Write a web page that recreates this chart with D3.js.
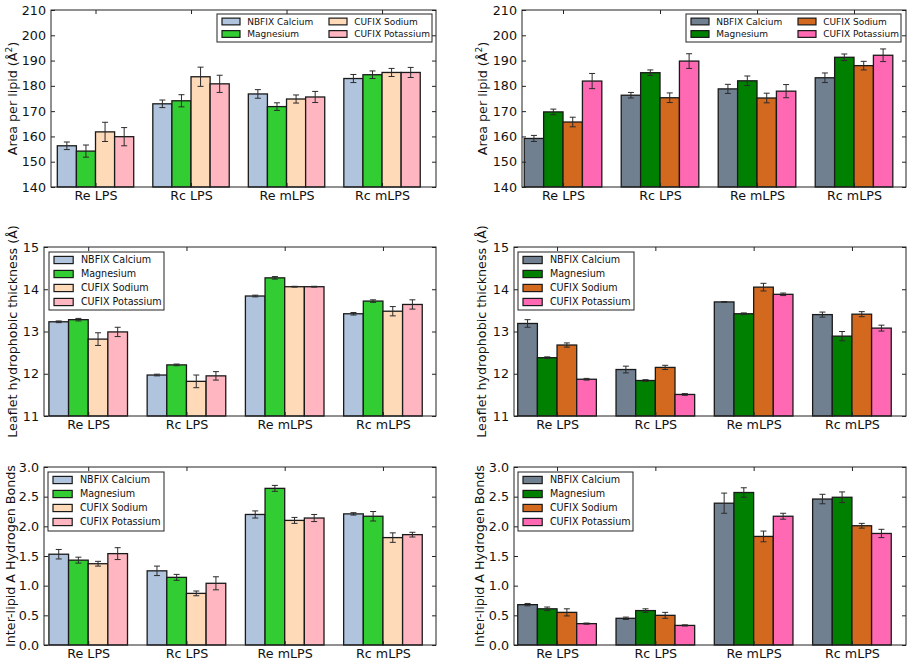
<!DOCTYPE html>
<html><head><meta charset="utf-8">
<script src="https://cdn.jsdelivr.net/npm/d3@7"></script>
<style>body{margin:0;background:#fff}svg{display:block}</style>
</head><body>
<svg id="chart" width="909" height="661"></svg>
<script>
// ---------- data ----------
const categories = ["Re LPS", "Rc LPS", "Re mLPS", "Rc mLPS"];
const seriesNames = ["NBFIX Calcium", "Magnesium", "CUFIX Sodium", "CUFIX Potassium"];
const leftColors = ["#b0c4de", "#32cd32", "#ffdab9", "#ffb6c1"];
const rightColors = ["#708090", "#008000", "#d2691e", "#ff69b4"];

const areaTicks = [140, 150, 160, 170, 180, 190, 200, 210];
const thicknessTicks = [11, 12, 13, 14, 15];
const hbondTicks = [0.0, 0.5, 1.0, 1.5, 2.0, 2.5, 3.0];

// rows = series (Calcium, Magnesium, Sodium, Potassium); columns = categories
const areaLeftMeans = [
  [156.3, 172.9, 176.8, 182.9],
  [154.2, 174.1, 171.8, 184.4],
  [161.8, 183.6, 174.8, 185.3],
  [159.9, 180.8, 175.6, 185.3]
];
const areaLeftErrors = [
  [1.5, 1.5, 1.7, 1.6],
  [2.4, 2.4, 1.5, 1.5],
  [3.8, 3.8, 1.6, 1.6],
  [3.6, 3.4, 2.2, 2.0]
];
const areaRightMeans = [
  [159.2, 176.3, 178.8, 183.2],
  [169.7, 185.2, 182.0, 191.3],
  [165.7, 175.3, 175.2, 188.0],
  [181.9, 189.8, 177.9, 192.1]
];
const areaRightErrors = [
  [1.2, 1.1, 1.8, 1.9],
  [1.1, 1.1, 1.9, 1.3],
  [1.9, 1.9, 1.9, 1.7],
  [3.0, 2.9, 2.6, 2.5]
];
const thickLeftMeans = [
  [13.23, 11.97, 13.84, 13.42],
  [13.28, 12.21, 14.27, 13.72],
  [12.82, 11.82, 14.06, 13.48],
  [12.99, 11.95, 14.06, 13.64]
];
const thickLeftErrors = [
  [0.02, 0.02, 0.02, 0.03],
  [0.03, 0.02, 0.03, 0.03],
  [0.15, 0.15, 0.01, 0.11],
  [0.11, 0.10, 0.01, 0.11]
];
const thickRightMeans = [
  [13.19, 12.10, 13.70, 13.40],
  [12.38, 11.84, 13.42, 12.89],
  [12.68, 12.15, 14.05, 13.41],
  [11.87, 11.51, 13.88, 13.08]
];
const thickRightErrors = [
  [0.09, 0.08, 0.01, 0.06],
  [0.02, 0.02, 0.02, 0.11],
  [0.05, 0.05, 0.09, 0.06],
  [0.02, 0.02, 0.03, 0.07]
];
const hbondLeftMeans = [
  [1.53, 1.25, 2.20, 2.21],
  [1.43, 1.14, 2.64, 2.17],
  [1.37, 0.87, 2.10, 1.81],
  [1.54, 1.04, 2.14, 1.86]
];
const hbondLeftErrors = [
  [0.08, 0.08, 0.06, 0.02],
  [0.05, 0.05, 0.05, 0.08],
  [0.04, 0.04, 0.05, 0.08],
  [0.10, 0.11, 0.06, 0.04]
];
const hbondRightMeans = [
  [0.68, 0.45, 2.39, 2.46],
  [0.61, 0.58, 2.57, 2.49],
  [0.55, 0.50, 1.83, 2.01],
  [0.36, 0.33, 2.17, 1.88]
];
const hbondRightErrors = [
  [0.02, 0.02, 0.17, 0.08],
  [0.03, 0.03, 0.08, 0.09],
  [0.06, 0.05, 0.09, 0.04],
  [0.01, 0.01, 0.05, 0.07]
];

// ---------- layout ----------
const FONT = "DejaVu Sans, Verdana, sans-serif";
const panels = [
  {means: areaLeftMeans, errs: areaLeftErrors, colors: leftColors, ticks: areaTicks, fmt: d3.format("d"),
   ylabel: "area", left: 51, right: 436, top: 10, bottom: 187, xdom: [-0.066, 3.965], ylabelX: 13,
   legend: {x: 217, y: 14, w: 215, h: 28, cols: 2, fs: 9, rowH: 12.5, colW: 107}},
  {means: areaRightMeans, errs: areaRightErrors, colors: rightColors, ticks: areaTicks, fmt: d3.format("d"),
   ylabel: "area", left: 522, right: 906, top: 10, bottom: 187, xdom: [-0.023, 3.936], ylabelX: 483,
   legend: {x: 686, y: 14, w: 215, h: 28, cols: 2, fs: 9, rowH: 12.5, colW: 107}},
  {means: thickLeftMeans, errs: thickLeftErrors, colors: leftColors, ticks: thicknessTicks, fmt: d3.format("d"),
   ylabel: "Leaflet hydrophobic thickness (Å)", left: 44, right: 436, top: 247, bottom: 416, xdom: [-0.05, 3.94], ylabelX: 13,
   legend: {x: 49, y: 252, w: 115, h: 58, cols: 1, fs: 9.6, rowH: 14}},
  {means: thickRightMeans, errs: thickRightErrors, colors: rightColors, ticks: thicknessTicks, fmt: d3.format("d"),
   ylabel: "Leaflet hydrophobic thickness (Å)", left: 514, right: 906, top: 247, bottom: 416, xdom: [-0.038, 3.95], ylabelX: 482,
   legend: {x: 518, y: 252, w: 116, h: 58, cols: 1, fs: 9.6, rowH: 14}},
  {means: hbondLeftMeans, errs: hbondLeftErrors, colors: leftColors, ticks: hbondTicks, fmt: d3.format(".1f"),
   ylabel: "Inter-lipid A Hydrogen Bonds", left: 44, right: 436, top: 467, bottom: 645, xdom: [-0.05, 3.94], ylabelX: 11,
   legend: {x: 48, y: 472, w: 116, h: 59, cols: 1, fs: 9.6, rowH: 14}},
  {means: hbondRightMeans, errs: hbondRightErrors, colors: rightColors, ticks: hbondTicks, fmt: d3.format(".1f"),
   ylabel: "Inter-lipid A Hydrogen Bonds", left: 514, right: 906, top: 467, bottom: 645, xdom: [-0.038, 3.95], ylabelX: 480,
   legend: {x: 518, y: 472, w: 115, h: 59, cols: 1, fs: 9.6, rowH: 14}}
];

const svg = d3.select("#chart");
const BARW = 0.2;
const EDGE = "#1a1a1a";

panels.forEach(p => {
  const g = svg.append("g");
  const x = d3.scaleLinear().domain(p.xdom).range([p.left, p.right]);
  const y = d3.scaleLinear().domain([p.ticks[0], p.ticks[p.ticks.length - 1]]).range([p.bottom, p.top]);
  const bw = x(BARW) - x(0);

  // bars
  p.means.forEach((row, s) => {
    g.selectAll(null).data(row).enter().append("rect")
      .attr("x", (d, c) => x(c + s * BARW))
      .attr("y", d => y(d))
      .attr("width", bw)
      .attr("height", d => y(p.ticks[0]) - y(d))
      .attr("fill", p.colors[s])
      .attr("stroke", EDGE)
      .attr("stroke-width", 1.3);
  });
  // error bars
  p.means.forEach((row, s) => {
    row.forEach((d, c) => {
      const e = p.errs[s][c];
      const cx = x(c + s * BARW + BARW / 2);
      const eg = g.append("g").attr("stroke", "#2b2b2b").attr("stroke-width", 1);
      eg.append("line").attr("x1", cx).attr("x2", cx).attr("y1", y(d - e)).attr("y2", y(d + e));
      eg.append("line").attr("x1", cx - 3).attr("x2", cx + 3).attr("y1", y(d - e)).attr("y2", y(d - e));
      eg.append("line").attr("x1", cx - 3).attr("x2", cx + 3).attr("y1", y(d + e)).attr("y2", y(d + e));
    });
  });

  // y axis (left) with inward ticks, and mirrored ticks on right
  const yAxisL = d3.axisLeft(y).tickValues(p.ticks).tickFormat(p.fmt).tickSizeInner(-4).tickSizeOuter(0).tickPadding(5);
  const ga = g.append("g").attr("transform", `translate(${p.left},0)`).call(yAxisL);
  ga.select(".domain").remove();
  ga.selectAll("text").attr("font-family", FONT).attr("font-size", 12.7).attr("fill", "#111");
  ga.selectAll("line").attr("stroke", "#222");
  const gr = g.append("g").attr("transform", `translate(${p.right},0)`)
    .call(d3.axisRight(y).tickValues(p.ticks).tickSizeInner(-4).tickSizeOuter(0).tickFormat(""));
  gr.select(".domain").remove();
  gr.selectAll("line").attr("stroke", "#222");

  // x axis: category labels at group centers, inward ticks top & bottom
  const centers = categories.map((c, i) => i + 2 * BARW);
  const xb = g.append("g").attr("transform", `translate(0,${p.bottom})`)
    .call(d3.axisBottom(x).tickValues(centers).tickFormat((d, i) => categories[i]).tickSizeInner(-4).tickSizeOuter(0).tickPadding(3.5));
  xb.select(".domain").remove();
  xb.selectAll("text").attr("font-family", FONT).attr("font-size", 12.7).attr("fill", "#111");
  xb.selectAll("line").attr("stroke", "#222");
  const xt = g.append("g").attr("transform", `translate(0,${p.top})`)
    .call(d3.axisTop(x).tickValues(centers).tickFormat("").tickSizeInner(-4).tickSizeOuter(0));
  xt.select(".domain").remove();
  xt.selectAll("line").attr("stroke", "#222");

  // frame
  g.append("rect").attr("x", p.left).attr("y", p.top).attr("width", p.right - p.left).attr("height", p.bottom - p.top)
    .attr("fill", "none").attr("stroke", "#222").attr("stroke-width", 1);

  // y label
  const yl = g.append("text")
    .attr("transform", `translate(${p.ylabelX},${(p.top + p.bottom) / 2}) rotate(-90)`)
    .attr("text-anchor", "middle").attr("dy", "0.35em")
    .attr("font-family", FONT).attr("font-size", 12.7).attr("fill", "#111");
  if (p.ylabel === "area") {
    yl.append("tspan").text("Area per lipid (Å");
    yl.append("tspan").attr("font-size", 9).attr("dy", -5).text("2");
    yl.append("tspan").attr("dy", 5).text(")");
  } else {
    yl.text(p.ylabel);
  }

  // legend
  const L = p.legend;
  const lg = g.append("g");
  lg.append("rect").attr("x", L.x).attr("y", L.y).attr("width", L.w).attr("height", L.h)
    .attr("fill", "#fff").attr("stroke", "#222").attr("stroke-width", 1);
  const rows = 4 / L.cols;
  seriesNames.forEach((name, i) => {
    const col = L.cols === 2 ? Math.floor(i / rows) : 0;
    const row = L.cols === 2 ? i % rows : i;
    const cy = L.y + 7.5 + row * L.rowH + (L.cols === 1 ? 0.5 : 0);
    const px = L.x + 5 + col * (L.colW || 0);
    const pw = L.fs * 2, ph = L.fs * 0.75;
    lg.append("rect").attr("x", px).attr("y", cy - ph / 2).attr("width", pw).attr("height", ph)
      .attr("fill", p.colors[i]).attr("stroke", EDGE).attr("stroke-width", 1.2);
    lg.append("text").attr("x", px + pw + L.fs * 0.8).attr("y", cy).attr("dy", "0.35em")
      .attr("font-family", FONT).attr("font-size", L.fs).attr("fill", "#111").text(name);
  });
});
</script>
</body></html>
